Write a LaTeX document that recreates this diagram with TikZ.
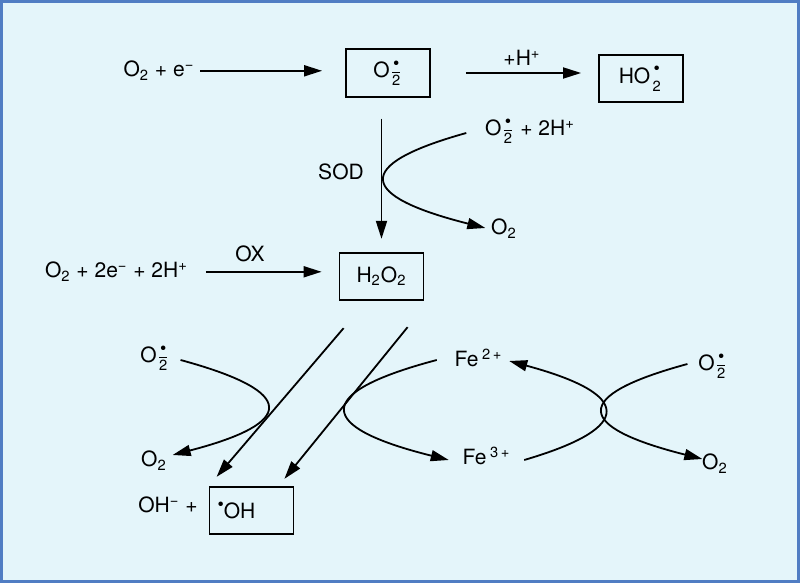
\documentclass[tikz,border=0pt]{standalone}
\usepackage{amsmath}
\usepackage{fontspec}
\setmainfont{TeX Gyre Heros}
\usetikzlibrary{arrows.meta,calc}
\definecolor{bgblue}{RGB}{228,245,250}
\definecolor{frameblue}{RGB}{80,125,195}
\newcommand{\bigdot}{\mbox{\fontsize{9}{9}\selectfont\textbullet}}
\newcommand{\supox}{O$\genfrac{}{}{0.4pt}{}{\bigdot}{\text{2}}$}
\newcommand{\hydrox}{HO$\genfrac{}{}{0pt}{}{\bigdot}{\text{2}}$}

\begin{document}
\begin{tikzpicture}[x=0.5pt, y=-0.5pt, >={Triangle[length=9pt,width=5.5pt]}, line width=0.9pt,
    font=\fontsize{10.5}{12}\selectfont,
    lbl/.style={inner sep=0pt, anchor=base},
    box/.style={draw, line width=0.9pt, minimum width=42pt, minimum height=23.75pt, inner sep=0pt}]
    \useasboundingbox (0,0) rectangle (800,583);
    \fill[bgblue] (0,0) rectangle (800,583);
    \draw[frameblue, line width=1.5pt] (1.5,1.5) rectangle (798.5,581.5);

    % top row
    \node[lbl] (o2e) at (159,77) {O\textsubscript{2} + e\textsuperscript{−}};
    \node[box] (sup1) at (388,73) {\supox};
    \node[lbl] (hplus) at (522,66) {+H\textsuperscript{+}};
    \node[box] (hoo) at (641,78.5) {\hydrox};

    % dismutation
    \node[lbl] (sod) at (341,180) {SOD};
    \node[lbl] (ox2) at (530,136) {\supox{} + 2H\textsuperscript{+}};
    \node[lbl] (o2b) at (504,235) {O\textsubscript{2}};

    % second row
    \node[lbl] (o2x) at (116.5,278) {O\textsubscript{2} + 2e\textsuperscript{−} + 2H\textsuperscript{+}};
    \node[lbl] (oxl) at (250,262) {OX};
    \node[box] (h2o2) at (381.5,276.5) {H\textsubscript{2}O\textsubscript{2}};

    % Haber-Weiss / Fenton
    \node[lbl] (oxl2) at (155,363) {\supox};
    \node[lbl] (o2l) at (154,467) {O\textsubscript{2}};
    \node[lbl] (ohm) at (168,513) {OH\textsuperscript{−} +};
    \node[box, inner xsep=4pt, text width=34pt, align=left] (oh) at (251.5,510.5) {\raisebox{4pt}{\bigdot}OH};
    \node[lbl] (fe2) at (478.5,367) {Fe\,\textsuperscript{2\,+}};
    \node[lbl] (fe3) at (486.5,465) {Fe\,\textsuperscript{3\,+}};
    \node[lbl] (oxr) at (713,371) {\supox};
    \node[lbl] (o2r) at (715,470) {O\textsubscript{2}};

    \draw[->, shorten <=2.5pt, shorten >=11.5pt] (o2e.east) -- (o2e.east -| sup1.west);
    \draw[->, shorten <=17.5pt, shorten >=8.5pt] (sup1.east) -- (sup1.east -| hoo.west);
    \draw[->, shorten <=10.5pt, shorten >=6.5pt] (h2o2.north |- sup1.south) -- (h2o2.north);
    \draw[->, shorten <=8.5pt, shorten >=8.5pt] (o2x.east) -- (o2x.east -| h2o2.west);
    \draw[->] ($(h2o2.south west)+(5,27)$) -- ($(oh.north west)+(8,-9)$);
    \draw[->] ($(h2o2.south west)+(69,26)$) -- ($(oh.north east)+(-10,-7)$);

    \draw[->] ($(ox2.base west)+(-18,-3)$) .. controls +(-115,32) and +(-127,-32) .. ($(o2b.base west)+(-5,-7)$);
    \draw[->] ($(oxl2.base east)+(10,-3)$) .. controls +(118,32) and +(123,-32) .. ($(o2l.base east)+(5,-12)$);
    \draw[->] ($(fe2.base west)+(-17,-7)$) .. controls +(-125,33) and +(-133,-33) .. ($(fe3.base west)+(-13,-5)$);
    \draw[->] ($(oxr.base west)+(-10,-7)$) .. controls +(-118,32) and +(-127,-32) .. ($(o2r.base west)+(1,-11)$);
    \draw[->] ($(fe3.base east)+(13,-5)$) .. controls +(112,-33) and +(122,33) .. ($(fe2.base east)+(6,-6)$);
\end{tikzpicture}
\end{document}
